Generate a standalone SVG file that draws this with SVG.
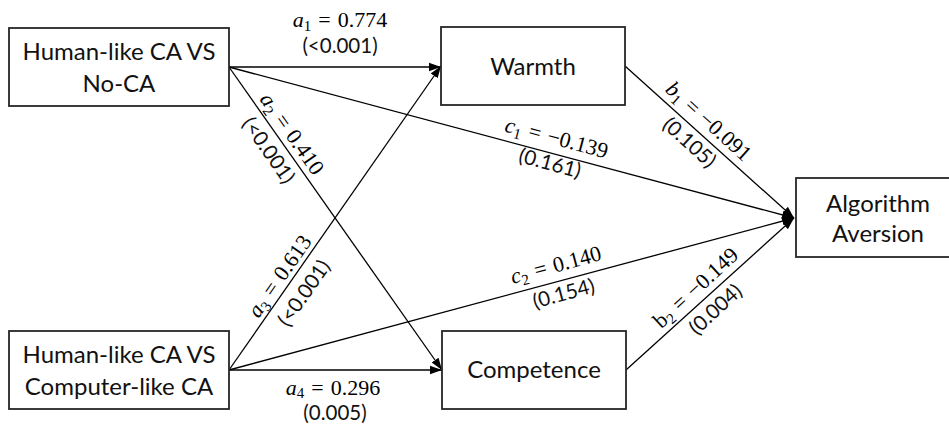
<svg xmlns="http://www.w3.org/2000/svg" width="949" height="428" viewBox="0 0 949 428">
<defs>
<marker id="arr" markerUnits="userSpaceOnUse" markerWidth="12" markerHeight="10" viewBox="0 0 12 10" refX="12" refY="5" orient="auto">
<path d="M0,0.8 L12,5 L0,9.2 Z" fill="#000"/>
</marker>
<style>
.box{fill:#fff;stroke:#262626;stroke-width:1.8}
.lbl{font-family:Lato,"Open Sans",sans-serif;font-size:24px;fill:#111;text-anchor:middle}
.m{font-family:"Liberation Serif","Times New Roman",serif;font-size:22px;fill:#000;text-anchor:middle}
.p{font-family:Lato,"Open Sans",sans-serif;font-size:20.5px;fill:#111;text-anchor:middle}
.v{font-style:italic}
.s{font-size:15px}
.ln{fill:none;stroke:#000;stroke-width:1.3;marker-end:url(#arr)}
</style>
</defs>
<g id="connectors">
<path class="ln" d="M229,67 L441,67"/>
<path class="ln" d="M229,67 L442,370"/>
<path class="ln" d="M229,67 L794,218"/>
<path class="ln" d="M229,370 L441,66"/>
<path class="ln" d="M229,370 L442,370"/>
<path class="ln" d="M229,370 L794,218"/>
<path class="ln" d="M625,66 L794,218"/>
<path class="ln" d="M626,370 L794,218"/>
</g>
<g id="labels">
<text class="m" x="340" y="27"><tspan class="v">a</tspan><tspan class="s" dy="4">1</tspan><tspan dy="-4" dx="7">=</tspan><tspan dx="7">0.774</tspan></text>
<text class="p" x="340" y="53">(&lt;0.001)</text>
<text class="m" x="333" y="395"><tspan class="v">a</tspan><tspan class="s" dy="3">4</tspan><tspan dy="-3" dx="7">=</tspan><tspan dx="7">0.296</tspan></text>
<text class="p" x="335" y="420">(0.005)</text>
<g transform="translate(281.3,141.4) rotate(54.9)">
<text class="m" x="0" y="-6"><tspan class="v">a</tspan><tspan class="s" dy="4">2</tspan><tspan dy="-4" dx="7">=</tspan><tspan dx="7">0.410</tspan></text>
<text class="p" x="0" y="22.5">(&lt;0.001)</text>
</g>
<g transform="translate(289.6,283.1) rotate(-55.1)">
<text class="m" x="0" y="-5"><tspan class="v">a</tspan><tspan class="s" dy="4">3</tspan><tspan dy="-4" dx="7">=</tspan><tspan dx="7">0.613</tspan></text>
<text class="p" x="0" y="24.5">(&lt;0.001)</text>
</g>
<g transform="translate(552.6,153.1) rotate(14.9)">
<text class="m" x="0" y="-8.5"><tspan class="v">c</tspan><tspan class="s" dy="4">1</tspan><tspan dy="-4" dx="7">=</tspan><tspan dx="7">−0.139</tspan></text>
<text class="p" x="0" y="17.5">(0.161)</text>
</g>
<g transform="translate(560,280.1) rotate(-15.2)">
<text class="m" x="0" y="-8.5"><tspan class="v">c</tspan><tspan class="s" dy="4">2</tspan><tspan dy="-4" dx="7">=</tspan><tspan dx="7">0.140</tspan></text>
<text class="p" x="0" y="21">(0.154)</text>
</g>
<g transform="translate(698.5,132.4) rotate(42.1)">
<text class="m" x="0" y="-8"><tspan class="v">b</tspan><tspan class="s" dy="4">1</tspan><tspan dy="-4" dx="7">=</tspan><tspan dx="7">−0.091</tspan></text>
<text class="p" x="0" y="20.5">(0.105)</text>
</g>
<g transform="translate(704.6,297.5) rotate(-42.7)">
<text class="m" x="0" y="-6"><tspan>b</tspan><tspan class="s" dy="4">2</tspan><tspan dy="-4" dx="7">=</tspan><tspan dx="7">−0.149</tspan></text>
<text class="p" x="0" y="23">(0.004)</text>
</g>
</g>
<g id="n-nocA">
<rect class="box" x="9" y="28" width="220" height="78"/>
<text class="lbl" x="119" y="60">Human-like CA VS</text>
<text class="lbl" x="119" y="92">No-CA</text>
</g>
<g id="n-compCA">
<rect class="box" x="9" y="331" width="220" height="78"/>
<text class="lbl" x="119" y="363">Human-like CA VS</text>
<text class="lbl" x="119" y="395">Computer-like CA</text>
</g>
<g id="n-warmth">
<rect class="box" x="441" y="27" width="184" height="78"/>
<text class="lbl" x="533" y="75">Warmth</text>
</g>
<g id="n-competence">
<rect class="box" x="442" y="331" width="184" height="78"/>
<text class="lbl" x="534" y="378">Competence</text>
</g>
<g id="n-aversion">
<rect class="box" x="796" y="178" width="170" height="79"/>
<text class="lbl" x="878" y="212">Algorithm</text>
<text class="lbl" x="878" y="242">Aversion</text>
</g>
</svg>
